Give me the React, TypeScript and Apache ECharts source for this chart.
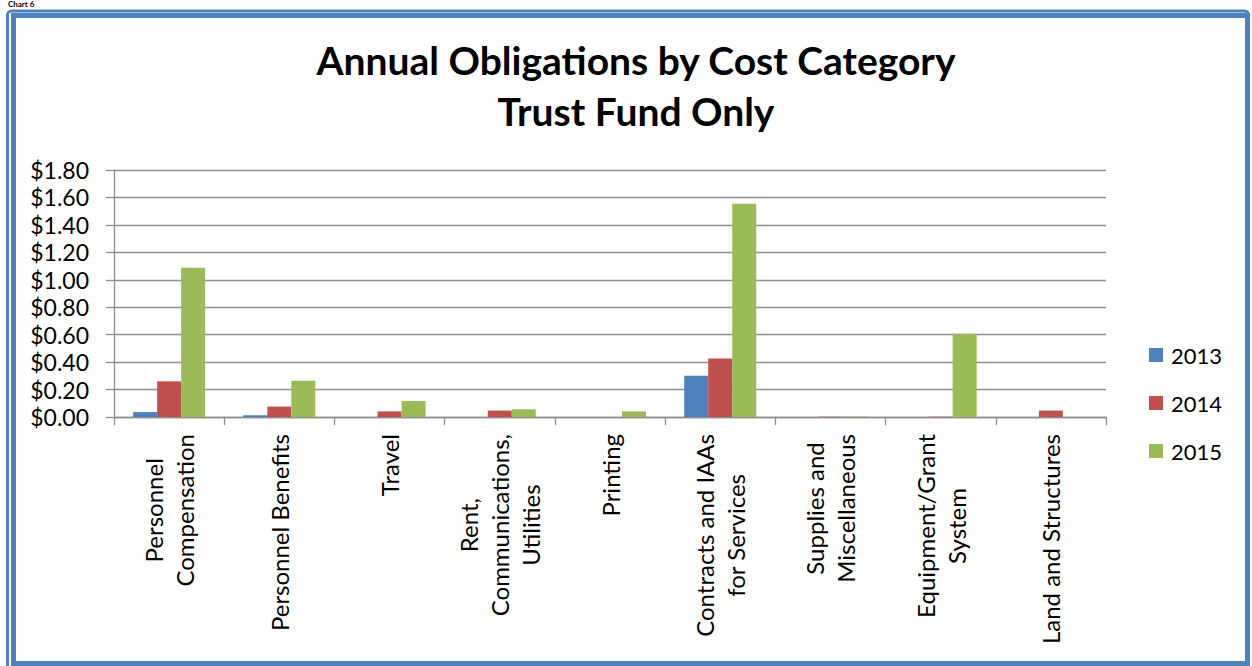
import React, { useEffect, useRef } from "react";
import * as echarts from "echarts";

const categories = [
  "Personnel\nCompensation",
  "Personnel Benefits",
  "Travel",
  "Rent,\nCommunications,\nUtilities",
  "Printing",
  "Contracts and IAAs\nfor Services",
  "Supplies and\nMiscellaneous",
  "Equipment/Grant\nSystem",
  "Land and Structures",
];

const seriesNames = ["2013", "2014", "2015"];
const values2013 = [0.036, 0.012, 0, 0, 0, 0.301, 0, 0, 0];
const values2014 = [0.26, 0.076, 0.041, 0.047, 0, 0.427, 0.002, 0.002, 0.047];
const values2015 = [1.088, 0.265, 0.117, 0.056, 0.041, 1.554, 0.003, 0.607, 0];
const colors = ["#4F81BD", "#C0504D", "#9BBB59"];

const titleLines = ["Annual Obligations by Cost Category", "Trust Fund Only"];

const FONT = "Lato, 'Open Sans', sans-serif";

export default function App() {
  const ref = useRef<HTMLDivElement>(null);

  useEffect(() => {
    if (!ref.current) return;
    const chart = echarts.init(ref.current, null, { renderer: "svg" });
    const data = [values2013, values2014, values2015];
    chart.setOption({
      animation: false,
      backgroundColor: "#ffffff",
      title: {
        text: titleLines.join("\n"),
        left: 631,
        top: 29,
        textAlign: "center",
        textStyle: {
          fontFamily: FONT,
          fontSize: 39,
          fontWeight: "bold",
          lineHeight: 51,
          color: "#000000",
        },
      },
      legend: {
        orient: "vertical",
        left: 1149,
        top: 343,
        padding: 0,
        itemWidth: 14,
        itemHeight: 14,
        itemGap: 24,
        icon: "rect",
        data: seriesNames,
        textStyle: {
          fontFamily: FONT,
          fontSize: 22,
          lineHeight: 24,
          color: "#000000",
          padding: [0, 0, 0, 3],
        },
      },
      grid: {
        left: 114,
        top: 170,
        width: 992,
        height: 247,
        containLabel: false,
      },
      xAxis: {
        type: "category",
        data: categories,
        axisLine: { show: true, lineStyle: { color: "#8e8e8e", width: 1.3 } },
        axisTick: {
          show: true,
          alignWithLabel: false,
          length: 8,
          lineStyle: { color: "#8e8e8e", width: 1.3 },
        },
        axisLabel: {
          interval: 0,
          rotate: 90,
          margin: 17,
          formatter: (v: string) =>
            v
              .split("\n")
              .map((l) => `{c|${l}}`)
              .join("\n"),
          rich: {
            c: {
              align: "center",
              fontFamily: FONT,
              fontSize: 24,
              lineHeight: 31,
              color: "#000000",
            },
          },
        },
      },
      yAxis: {
        type: "value",
        min: 0,
        max: 1.8,
        interval: 0.2,
        axisLine: { show: true, lineStyle: { color: "#8e8e8e", width: 1.3 } },
        axisTick: {
          show: true,
          length: 8,
          lineStyle: { color: "#8e8e8e", width: 1.3 },
        },
        splitLine: { show: true, lineStyle: { color: "#8e8e8e", width: 1.3 } },
        axisLabel: {
          margin: 25,
          fontFamily: FONT,
          fontSize: 23,
          color: "#000000",
          formatter: (v: number) => `$${v.toFixed(2)}`,
        },
      },
      series: seriesNames.map((name, i) => ({
        name,
        type: "bar",
        data: data[i],
        barWidth: 24,
        barGap: "0%",
        itemStyle: { color: colors[i] },
      })),
      graphic: [
        {
          type: "text",
          left: 8,
          top: 0,
          style: {
            text: "Chart 6",
            fontFamily: FONT,
            fontSize: 8,
            fontWeight: "bold",
            fill: "#000000",
          },
        },
        {
          type: "rect",
          shape: { x: 7.5, y: 11, width: 1241, height: 665, r: 4 },
          style: { fill: "none", stroke: "#4F81BD", lineWidth: 3 },
          silent: true,
        },
        {
          type: "rect",
          shape: { x: 13.5, y: 15.5, width: 1234, height: 648 },
          style: { fill: "none", stroke: "#4F81BD", lineWidth: 5 },
          silent: true,
        },
      ],
    });
    return () => chart.dispose();
  }, []);

  return (
    <div
      ref={ref}
      style={{ position: "fixed", left: 0, top: 0, width: 1252, height: 666 }}
    />
  );
}
